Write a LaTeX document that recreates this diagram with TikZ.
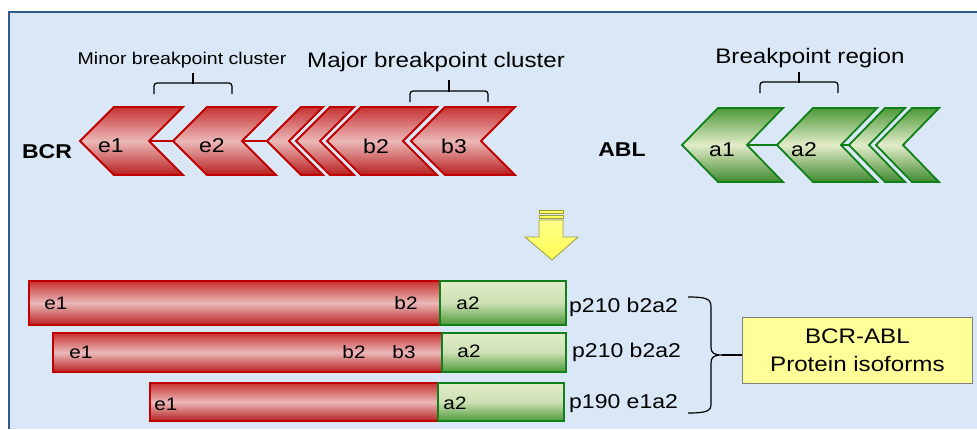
\documentclass[tikz,border=0pt]{standalone}
\usepackage{fontspec}
\setmainfont{Liberation Sans}[FakeStretch=1.15]
\definecolor{panel}{HTML}{D9E7F6}
\definecolor{panelline}{HTML}{2F5C8A}
\definecolor{bcrline}{HTML}{C00000}
\definecolor{bcrtop}{HTML}{C83232}
\definecolor{bcrmid}{HTML}{EBB8B8}
\definecolor{bcrbot}{HTML}{B82020}
\definecolor{ablline}{HTML}{12801A}
\definecolor{abltop}{HTML}{4E9A3A}
\definecolor{ablmid}{HTML}{E2ECC8}
\definecolor{ablbot}{HTML}{3F8A2F}
\definecolor{arrowfill}{HTML}{FFFF55}
\definecolor{arrowline}{HTML}{9C9C40}
\definecolor{boxfill}{HTML}{FFFF99}
\definecolor{boxline}{HTML}{7F7F7F}

% one chevron: name, style, tip x, middle y, half height, slant, width
\newcommand\chevron[7]{%
  \draw[#2] (#3,#4) -- ({#3+#6},{#4-#5}) -- ({#3+#6+#7},{#4-#5})
    -- ({#3+#7},#4) -- ({#3+#6+#7},{#4+#5}) -- ({#3+#6},{#4+#5}) -- cycle;
  \coordinate (#1-tip) at (#3,#4);
  \coordinate (#1-notch) at ({#3+#7},#4);
}

\tikzset{
  bcrchev/.style={draw=bcrline, line width=1.8pt, line join=miter,
    top color=bcrtop, bottom color=bcrbot, middle color=bcrmid},
  ablchev/.style={draw=ablline, line width=1.8pt, line join=miter,
    top color=abltop, bottom color=ablbot, middle color=ablmid},
  bcrlink/.style={draw=bcrline, line width=2.4pt},
  abllink/.style={draw=ablline, line width=2.4pt},
  bcrbar/.style={draw=bcrline, line width=1.8pt,
    top color=bcrtop, bottom color=bcrbot, middle color=bcrmid},
  ablbar/.style={draw=ablline, line width=1.8pt,
    top color=ablmid, bottom color=abltop, middle color=ablmid!85!abltop},
  chevlbl/.style={inner sep=0pt, font=\fontsize{20}{24}\selectfont},
  genelbl/.style={inner sep=0pt, font=\bfseries\fontsize{20}{24}\selectfont},
  barlbl/.style={inner sep=0pt, font=\fontsize{18}{22}\selectfont},
  isolbl/.style={inner sep=0pt, anchor=west, font=\fontsize{20}{24}\selectfont},
  headlbl/.style={inner sep=0pt, font=\fontsize{21}{25}\selectfont},
  smallhead/.style={inner sep=0pt, font=\fontsize{17}{20}\selectfont},
  bracket/.style={draw=black, line width=1.2pt, rounded corners=3pt},
}

\begin{document}
\begin{tikzpicture}[x=1pt, y=-1pt]
\useasboundingbox (0,0) rectangle (977,429);

% background panel
\fill[white] (0,0) rectangle (977,429);
\fill[panel] (9,12) rectangle (977,429);
\draw[panelline, line width=2pt] (9,429) -- (9,12) -- (977,12);

% ---------- BCR gene ----------
\node[genelbl] (bcr) at (47,152) {BCR};
\chevron{e1}{bcrchev}{80}{141}{34}{34}{69}
\chevron{e2}{bcrchev}{173}{141}{34}{34}{69}
\chevron{ma}{bcrchev}{267}{141}{34}{34}{22}
\chevron{mb}{bcrchev}{296}{141}{34}{34}{24}
\chevron{b2}{bcrchev}{327}{141}{34}{34}{76}
\chevron{b3}{bcrchev}{411}{141}{34}{34}{70}
\draw[bcrlink] (e1-notch) -- (e2-tip);
\draw[bcrlink] (e2-notch) -- (ma-tip);
\node[chevlbl] (le1) at (111,146) {e1};
\node[chevlbl] (le2) at (212,146) {e2};
\node[chevlbl] (lb2) at (376,146) {b2};
\node[chevlbl] (lb3) at (454,146) {b3};

% breakpoint clusters
\node[smallhead] (minor) at (182,60) {Minor breakpoint cluster};
\draw[bracket] (154,94) -- (154,83) -- (193,83);
\draw[bracket] (232,94) -- (232,83) -- (193,83);
\draw[bracket] (193,84) -- (193,73);
\node[headlbl] (major) at (436,62) {Major breakpoint cluster};
\draw[bracket] (410,102) -- (410,91) -- (449,91);
\draw[bracket] (488,102) -- (488,91) -- (449,91);
\draw[bracket] (449,92) -- (449,80);

% ---------- ABL gene ----------
\node[genelbl] (abl) at (622,150) {ABL};
\chevron{a1}{ablchev}{682}{145}{37}{36}{65}
\chevron{a2}{ablchev}{777}{145}{37}{36}{64}
\chevron{xa}{ablchev}{849}{145}{37}{36}{20}
\chevron{xb}{ablchev}{876}{145}{37}{36}{27}
\draw[abllink] (a1-notch) -- (a2-tip);
\draw[abllink] (a2-notch) -- (xa-tip);
\node[chevlbl] (la1) at (722,150) {a1};
\node[chevlbl] (la2) at (804,150) {a2};

\node[headlbl] (region) at (810,58) {Breakpoint region};
\draw[bracket] (760,93) -- (760,82) -- (799,82);
\draw[bracket] (838,93) -- (838,82) -- (799,82);
\draw[bracket] (799,83) -- (799,72);

% ---------- translocation arrow ----------
\draw[arrowline, fill=arrowfill, line width=0.8pt] (539,210) rectangle (563,213);
\draw[arrowline, fill=arrowfill, line width=0.8pt] (539,215) rectangle (563,218);
\draw[arrowline, line width=0.8pt, top color=arrowfill!70!white, bottom color=arrowfill]
  (539,220) -- (563,220) -- (563,237) -- (578,237) -- (552,260) -- (525,237) -- (539,237) -- cycle;

% ---------- fusion proteins ----------
\draw[bcrbar] (29,281) rectangle (440,325);
\draw[ablbar] (440,281) rectangle (566,325);
\node[barlbl] (r1e1) at (56,303) {e1};
\node[barlbl] (r1b2) at (406,303) {b2};
\node[barlbl] (r1a2) at (468,303) {a2};
\node[isolbl] (iso1) at (569,307) {p210 b2a2};

\draw[bcrbar] (53,333) rectangle (442,372);
\draw[ablbar] (442,333) rectangle (566,372);
\node[barlbl] (r2e1) at (81,352) {e1};
\node[barlbl] (r2b2) at (354,352) {b2};
\node[barlbl] (r2b3) at (404,352) {b3};
\node[barlbl] (r2a2) at (469,351) {a2};
\node[isolbl] (iso2) at (572,352) {p210 b2a2};

\draw[bcrbar] (150,383) rectangle (438,421);
\draw[ablbar] (438,383) rectangle (564,421);
\node[barlbl] (r3e1) at (166,404) {e1};
\node[barlbl] (r3a2) at (455,403) {a2};
\node[isolbl] (iso3) at (569,404) {p190 e1a2};

% isoform box and brace
\node[draw=boxline, fill=boxfill, line width=0.8pt, minimum width=230pt, minimum height=66pt,
  anchor=north west, align=center, inner sep=0pt, font=\fontsize{21}{28}\selectfont]
  (box) at (742,317) {BCR-ABL\\Protein isoforms};
\coordinate (brtop) at (688,297);
\coordinate (brbot) at (688,413);
\coordinate (brtip) at (722,355);
\draw[black, line width=1.2pt] (brtop) .. controls (707,297) and (711,299) .. (711,307)
  -- (711,347) .. controls (711,353) and (714,355) .. (brtip)
  .. controls (714,355) and (711,357) .. (711,363)
  -- (711,404) .. controls (711,411) and (707,413) .. (brbot);
\draw[black, line width=1.2pt] (brtip) -- (box.west |- brtip);
\end{tikzpicture}
\end{document}
